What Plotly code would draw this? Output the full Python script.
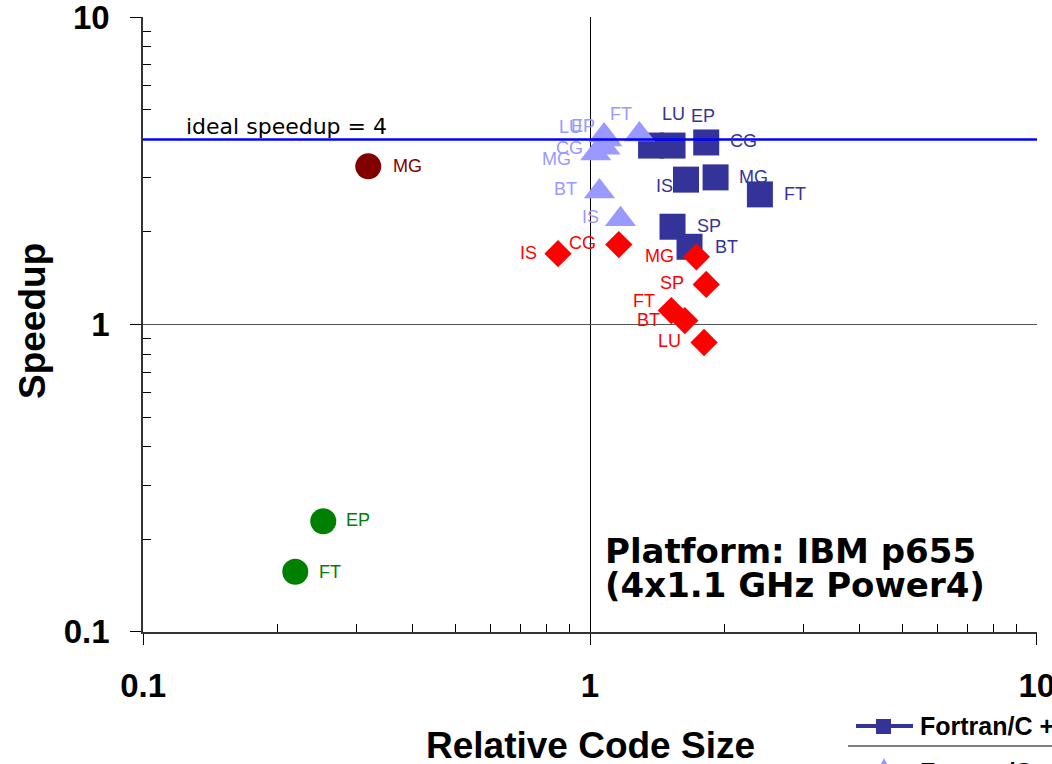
import numpy as np
import plotly.graph_objects as go

# ---- data: relative code size (x) vs speedup (y) per NAS benchmark ----
sq_names = ["LU", "EP", "CG", "IS", "MG", "FT", "SP", "BT"]
sq_size = [1.37, 1.53, 1.82, 1.64, 1.91, 2.40, 1.53, 1.67]
sq_speedup = [3.82, 3.82, 3.91, 2.96, 3.01, 2.65, 2.08, 1.79]

tri_names = ["LU", "EP", "CG", "MG", "FT", "BT", "IS"]
tri_size = [1.075, 1.09, 1.08, 1.03, 1.29, 1.05, 1.17]
tri_speedup = [4.12, 4.00, 3.76, 3.60, 4.15, 2.71, 2.20]

dia_names = ["IS", "CG", "MG", "SP", "FT", "BT", "LU"]
dia_size = [0.848, 1.16, 1.73, 1.82, 1.52, 1.63, 1.80]
dia_speedup = [1.70, 1.82, 1.66, 1.35, 1.11, 1.03, 0.874]

grn_names = ["EP", "FT"]
grn_size = [0.253, 0.219]
grn_speedup = [0.229, 0.157]

mg_names = ["MG"]
mg_size = [0.319]
mg_speedup = [3.27]

IDEAL_SPEEDUP = 4
x_tick_vals = [0.1, 1, 10]
x_tick_text = ["0.1", "1", "10"]
y_tick_vals = [0.1, 1, 10]
y_tick_text = ["0.1", "1", "10"]

# ---- styling ----
W, H = 1052, 764
ML, MR, MT, MB = 143, 15, 17, 132
PW, PH = W - ML - MR, H - MT - MB

ARIAL = "Arial, Liberation Sans, sans-serif"
WIDE = "DejaVu Sans, sans-serif"

# pixel offsets of each data label from its marker (dx right, dy down)
sq_label_off = [(22, -32), (30, -30), (37, -1), (-22, 6), (38, 0), (35, 0), (36, -1), (37, 0)]
tri_label_off = [(-34, -8), (-24, -13), (-35, 0), (-39, 6), (-18, -21), (-34, -2), (-30, -2)]
dia_label_off = [(-30, -1), (-36, -2), (-37, -1), (-34, -1), (-27, -10), (-36, -1), (-35, -1)]
grn_label_off = [(35, -1), (35, 0)]
mg_label_off = [(39, 0)]

series = [
    dict(names=sq_names, x=sq_size, y=sq_speedup, off=sq_label_off,
         color="#333399", symbol="square", size=26),
    dict(names=tri_names, x=tri_size, y=tri_speedup, off=tri_label_off,
         color="#9999FF", symbol="triangle-up", size=27),
    dict(names=dia_names, x=dia_size, y=dia_speedup, off=dia_label_off,
         color="#FF0000", symbol="diamond", size=21),
    dict(names=grn_names, x=grn_size, y=grn_speedup, off=grn_label_off,
         color="#008000", symbol="circle", size=26),
    dict(names=mg_names, x=mg_size, y=mg_speedup, off=mg_label_off,
         color="#800000", symbol="circle", size=26),
]


def px(X):
    return (X - ML) / PW


def py(Y):
    return (H - MB - Y) / PH


fig = go.Figure()
annotations = []

for s in series:
    fig.add_trace(go.Scatter(
        x=s["x"], y=s["y"], mode="markers", showlegend=False,
        marker=dict(symbol=s["symbol"], size=s["size"], color=s["color"],
                    line=dict(width=0)),
        hoverinfo="skip",
    ))
    for name, xv, yv, (dx, dy) in zip(s["names"], s["x"], s["y"], s["off"]):
        annotations.append(dict(
            x=np.log10(xv), y=np.log10(yv), xref="x", yref="y",
            text=name, showarrow=False, xshift=dx, yshift=-dy,
            xanchor="center", yanchor="middle",
            font=dict(family=ARIAL, size=18, color=s["color"]),
        ))

# ideal speedup reference line
fig.add_hline(y=IDEAL_SPEEDUP, line_color="#0000FF", line_width=2.5, layer="above")
annotations.append(dict(
    x=px(184), y=py(126), xref="paper", yref="paper", xanchor="left", yanchor="middle",
    text=f"ideal speedup = {IDEAL_SPEEDUP}", showarrow=False,
    font=dict(family=WIDE, size=22, color="black"),
))

# platform note
annotations.append(dict(
    x=px(603), y=py(551), xref="paper", yref="paper", xanchor="left", yanchor="middle",
    text="Platform: IBM p655", showarrow=False,
    font=dict(family=WIDE, size=34, color="black", weight="bold"),
))
annotations.append(dict(
    x=px(603), y=py(585), xref="paper", yref="paper", xanchor="left", yanchor="middle",
    text="(4x1.1 GHz Power4)", showarrow=False,
    font=dict(family=WIDE, size=34, color="black", weight="bold"),
))

# axis titles
annotations.append(dict(
    x=px(32), y=py(321), xref="paper", yref="paper", xanchor="center", yanchor="middle",
    text="Speedup", textangle=-90, showarrow=False,
    font=dict(family=ARIAL, size=37, color="black", weight="bold"),
))
annotations.append(dict(
    x=px(590), y=py(745), xref="paper", yref="paper", xanchor="center", yanchor="middle",
    text="Relative Code Size", showarrow=False,
    font=dict(family=ARIAL, size=37, color="black", weight="bold"),
))

# legend box (partly beyond the right/bottom edge)
shapes = [
    dict(type="rect", xref="paper", yref="paper", x0=px(848), x1=px(1070),
         y0=py(700), y1=py(800), line=dict(color="black", width=1), fillcolor="white",
         layer="above"),
    dict(type="line", xref="paper", yref="paper", x0=px(848), x1=px(1070),
         y0=py(746), y1=py(746), line=dict(color="black", width=1), layer="above"),
    dict(type="line", xref="paper", yref="paper", x0=px(856), x1=px(913),
         y0=py(726), y1=py(726), line=dict(color="#333399", width=4), layer="above"),
    dict(type="rect", xref="paper", yref="paper", x0=px(876), x1=px(891),
         y0=py(719), y1=py(734), line=dict(width=0), fillcolor="#333399", layer="above"),
    dict(type="path", xref="paper", yref="paper",
         path=f"M {px(876)},{py(773)} L {px(892)},{py(773)} L {px(884)},{py(758)} Z",
         line=dict(width=0), fillcolor="#9999FF", layer="above"),
]
annotations.append(dict(
    x=px(918), y=py(726), xref="paper", yref="paper", xanchor="left", yanchor="middle",
    text="Fortran/C +", showarrow=False,
    font=dict(family=ARIAL, size=25, color="black", weight="bold"),
))
annotations.append(dict(
    x=px(918), y=py(772), xref="paper", yref="paper", xanchor="left", yanchor="middle",
    text="Fortran/C +", showarrow=False,
    font=dict(family=ARIAL, size=25, color="black", weight="bold"),
))

minor_vals = [m * 10.0 ** e for e in (-1, 0) for m in range(2, 10)]

# a hair of padding keeps the decade ticks at both ends of each log axis
axis_common = dict(
    type="log", range=[-1.0003, 1.0003], tickmode="array",
    ticks="outside", ticklen=11, tickwidth=1, tickcolor="black",
    showline=True, linewidth=1.5, linecolor="#333333",
    showgrid=True, gridwidth=1, zeroline=False,
    ticklabeloverflow="allow",
    tickfont=dict(family=ARIAL, size=33, color="black", weight="bold"),
    minor=dict(tickmode="array", tickvals=minor_vals, ticks="inside", ticklen=8,
               tickwidth=1, tickcolor="black", showgrid=False),
)

fig.update_layout(
    width=W, height=H,
    margin=dict(l=ML, r=MR, t=MT, b=MB, autoexpand=False),
    paper_bgcolor="white", plot_bgcolor="white",
    showlegend=False,
    xaxis=dict(axis_common, tickvals=x_tick_vals, ticktext=x_tick_text,
               gridcolor="black", ticklabelstandoff=13),
    yaxis=dict(axis_common, tickvals=y_tick_vals, ticktext=y_tick_text,
               gridcolor="#555555", ticklabelstandoff=14),
    annotations=annotations,
    shapes=shapes,
)

fig.write_html("out.html")
